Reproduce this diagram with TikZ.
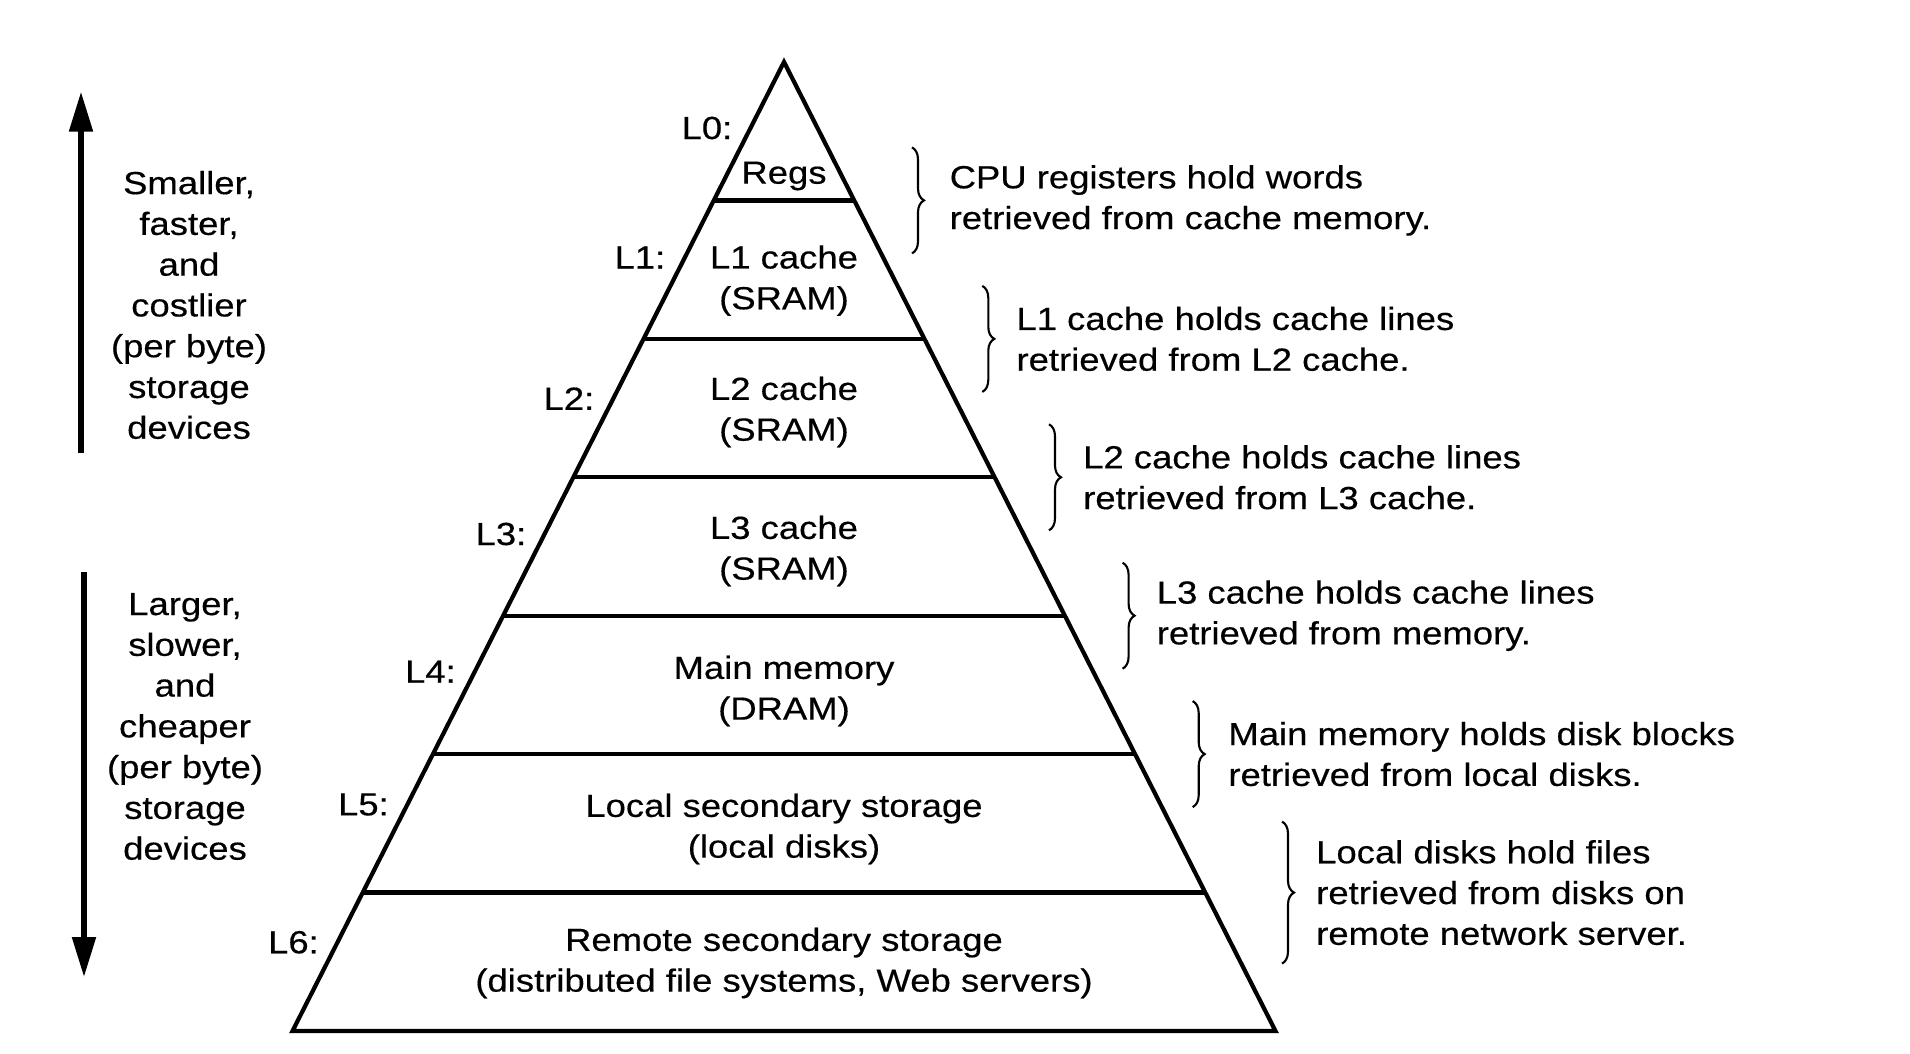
\documentclass[tikz,border=0pt]{standalone}
\usepackage{fontspec}
\setmainfont{Liberation Sans}[FakeStretch=1.14, FakeBold=0.4]
\usetikzlibrary{arrows.meta,calc,decorations.pathreplacing,positioning}
\newcommand{\figfont}{\fontsize{9.1}{11.6}\selectfont}
\tikzstyle{pyramid} = [line width=1.2pt]
\tikzstyle{levelbox} = [align=center, inner sep=0pt, font=\figfont]
\tikzstyle{levellabel} = [anchor=east, inner sep=0pt, font=\figfont]
\tikzstyle{notetext} = [align=left, anchor=west, inner sep=0pt, font=\figfont]
\tikzstyle{sidetext} = [align=center, inner sep=0pt, font=\figfont]
\tikzstyle{notebrace} = [decorate, decoration={brace, amplitude=1.2mm}, line width=0.6pt]
\tikzstyle{bigarrow} = [line width=1.5pt, -{Triangle[length=4mm, width=2.3mm]}]
\begin{document}
\begin{tikzpicture}
\useasboundingbox (0,0) rectangle (19.10,-10.54);

\coordinate (apex) at (7.84,-0.62);
\coordinate (bl) at (2.925,-10.31);
\coordinate (br) at (12.755,-10.31);
\draw[pyramid] (apex) -- (bl) -- (br) -- cycle;
\foreach \i in {1,...,6}
  \draw[pyramid] ($(apex)!\i/7!(bl)$) -- ($(apex)!\i/7!(br)$);

\node[levelbox] (regs) at (7.84,-1.76) {Regs};
\node[levelbox] (l1) at (7.84,-2.806) {L1 cache\\(SRAM)};
\node[levelbox] (l2) at (7.84,-4.12) {L2 cache\\(SRAM)};
\node[levelbox] (l3) at (7.84,-5.51) {L3 cache\\(SRAM)};
\node[levelbox] (l4) at (7.84,-6.91) {Main memory\\(DRAM)};
\node[levelbox] (l5) at (7.84,-8.29) {Local secondary storage\\(local disks)};
\node[levelbox] (l6) at (7.84,-9.63) {Remote secondary storage\\(distributed file systems, Web servers)};

\node[levellabel] (lab0) at (7.33,-1.28) {L0:};
\node[levellabel] (lab1) at (6.66,-2.575) {L1:};
\node[levellabel] (lab2) at (5.95,-3.986) {L2:};
\node[levellabel] (lab3) at (5.27,-5.34) {L3:};
\node[levellabel] (lab4) at (4.565,-6.717) {L4:};
\node[levellabel] (lab5) at (3.895,-8.045) {L5:};
\node[levellabel] (lab6) at (3.195,-9.423) {L6:};

% braces and notes
\coordinate (b0) at (9.12,-2.004);
\coordinate (b1) at (9.823,-3.389);
\coordinate (b2) at (10.49,-4.773);
\coordinate (b3) at (11.226,-6.157);
\coordinate (b4) at (11.927,-7.541);
\coordinate (b5) at (12.82,-8.926);

\draw[notebrace] ($(b0)+(0,0.53)$) -- ($(b0)-(0,0.53)$);
\node[notetext, right=3.7mm of b0] (note0) {CPU registers hold words\\retrieved from cache memory.};

\draw[notebrace] ($(b1)+(0,0.53)$) -- ($(b1)-(0,0.53)$);
\node[notetext, right=3.35mm of b1] (note1) {L1 cache holds cache lines\\retrieved from L2 cache.};

\draw[notebrace] ($(b2)+(0,0.53)$) -- ($(b2)-(0,0.53)$);
\node[notetext, right=3.35mm of b2] (note2) {L2 cache holds cache lines\\retrieved from L3 cache.};

\draw[notebrace] ($(b3)+(0,0.53)$) -- ($(b3)-(0,0.53)$);
\node[notetext, right=3.35mm of b3] (note3) {L3 cache holds cache lines\\retrieved from memory.};

\draw[notebrace] ($(b4)+(0,0.53)$) -- ($(b4)-(0,0.53)$);
\node[notetext, right=3.5mm of b4] (note4) {Main memory holds disk blocks\\retrieved from local disks.};

\draw[notebrace] ($(b5)+(0,0.71)$) -- ($(b5)-(0,0.71)$);
\node[notetext, right=3.35mm of b5] (note5) {Local disks hold files\\retrieved from disks on\\remote network server.};

% side arrows
\coordinate (upfrom) at (0.81,-4.53);
\coordinate (upto) at (0.81,-0.917);
\draw[bigarrow] (upfrom) -- (upto);
\node[sidetext] (smaller) at (1.89,-3.05) {Smaller,\\faster,\\and\\costlier\\(per byte)\\storage\\devices};

\coordinate (downfrom) at (0.84,-5.72);
\coordinate (downto) at (0.84,-9.77);
\draw[bigarrow] (downfrom) -- (downto);
\node[sidetext] (larger) at (1.85,-7.265) {Larger,\\slower,\\and\\cheaper\\(per byte)\\storage\\devices};

\end{tikzpicture}
\end{document}
